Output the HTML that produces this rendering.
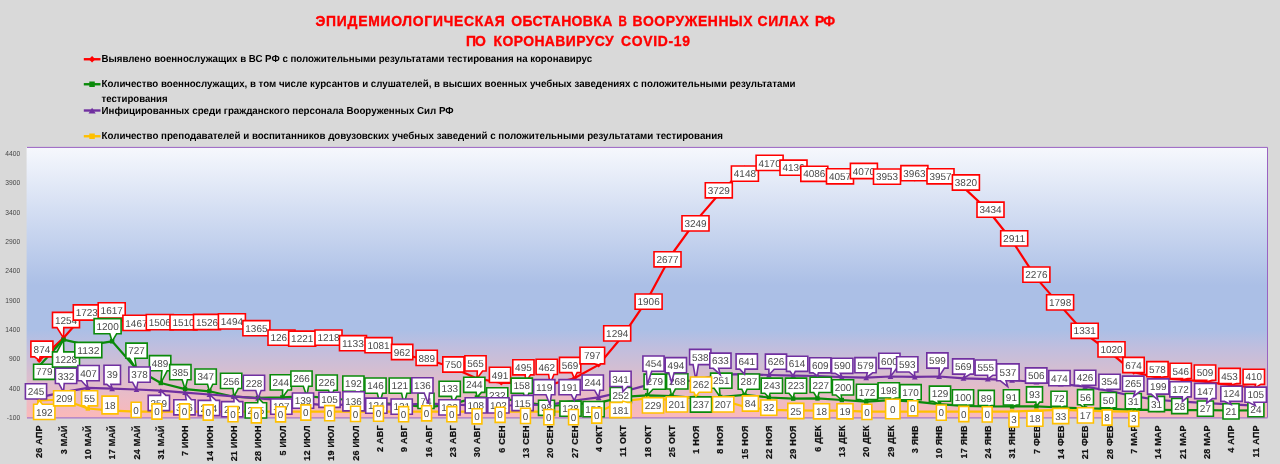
<!DOCTYPE html>
<html lang="ru"><head><meta charset="utf-8"><title>Эпидемиологическая обстановка</title>
<style>html,body{margin:0;padding:0;background:#d9d9d9}svg{display:block}text{font-family:"Liberation Sans",sans-serif}.dl{text-rendering:geometricPrecision;font-size:10px;fill:#4a4a4a;text-anchor:middle}.ax{font-size:6.7px;fill:#444;text-anchor:end}.cx{font-size:9px;font-weight:bold;fill:#111;text-anchor:end;letter-spacing:0.22px;stroke:#111;stroke-width:0.2px}.lg{text-rendering:geometricPrecision;font-size:10.2px;font-weight:bold;fill:#000}.tt{font-size:13.9px;font-weight:bold;fill:#ff0000;stroke:#ff0000;stroke-width:0.35px}</style></head><body>
<svg width="1280" height="464" viewBox="0 0 1280 464">
<defs><linearGradient id="pg" x1="0" y1="0" x2="0" y2="1"><stop offset="0" stop-color="#f6f8fd"/><stop offset="0.51" stop-color="#abbfe6"/><stop offset="0.675" stop-color="#abbfe6"/><stop offset="0.742" stop-color="#c0bede"/><stop offset="0.831" stop-color="#d6bed0"/><stop offset="0.90" stop-color="#e6bcc9"/><stop offset="0.935" stop-color="#eebbc4"/><stop offset="0.965" stop-color="#f3b9bf"/><stop offset="0.985" stop-color="#f9b9bb"/><stop offset="1" stop-color="#fab9ba"/></linearGradient></defs>
<rect width="1280" height="464" fill="#d9d9d9"/>
<text class="tt" y="26.1"><tspan x="315.5" textLength="189.3" lengthAdjust="spacing">ЭПИДЕМИОЛОГИЧЕСКАЯ</tspan> <tspan x="511.2" textLength="101.0" lengthAdjust="spacing">ОБСТАНОВКА</tspan> <tspan x="618.4" textLength="8.4" lengthAdjust="spacingAndGlyphs">В</tspan> <tspan x="632.6" textLength="120.0" lengthAdjust="spacing">ВООРУЖЕННЫХ</tspan> <tspan x="757.6" textLength="51.2" lengthAdjust="spacing">СИЛАХ</tspan> <tspan x="815.1" textLength="20.0" lengthAdjust="spacing">РФ</tspan></text>
<text class="tt" y="45.6"><tspan x="466.1" textLength="19.8" lengthAdjust="spacing">ПО</tspan> <tspan x="493.6" textLength="120.0" lengthAdjust="spacing">КОРОНАВИРУСУ</tspan> <tspan x="621.0" textLength="69.0" lengthAdjust="spacing">COVID-19</tspan></text>
<line x1="83.8" y1="59.25" x2="100.5" y2="59.25" stroke="#ff0000" stroke-width="2.4"/>
<path d="M92.1 56.0L95.3 59.2L92.1 62.5L88.8 59.2Z" fill="#ff0000"/>
<text class="lg" x="101.6" y="62.3" textLength="490.5" lengthAdjust="spacingAndGlyphs">Выявлено военнослужащих в ВС РФ с положительными результатами тестирования на коронавирус</text>
<line x1="83.8" y1="84.25" x2="100.5" y2="84.25" stroke="#0a8a0a" stroke-width="2.4"/>
<rect x="89.3" y="81.5" width="5.5" height="5.5" fill="#0a8a0a"/>
<text class="lg" x="101.6" y="87.3" textLength="694.0" lengthAdjust="spacingAndGlyphs">Количество военнослужащих, в том числе курсантов и слушателей, в высших военных учебных заведениях с положительными результатами</text>
<text class="lg" x="101.6" y="101.5" textLength="66.0" lengthAdjust="spacingAndGlyphs">тестирования</text>
<line x1="83.8" y1="110.50" x2="100.5" y2="110.50" stroke="#7030a0" stroke-width="2.4"/>
<path d="M92.1 107.8L95.7 113.6L88.5 113.6Z" fill="#7030a0"/>
<text class="lg" x="101.6" y="113.5" textLength="352.0" lengthAdjust="spacingAndGlyphs">Инфицированных среди гражданского персонала Вооруженных Сил РФ</text>
<line x1="83.8" y1="136.25" x2="100.5" y2="136.25" stroke="#ffc000" stroke-width="2.4"/>
<rect x="89.3" y="133.5" width="5.5" height="5.5" fill="#ffc000"/>
<text class="lg" x="101.6" y="139.4" textLength="621.3" lengthAdjust="spacingAndGlyphs">Количество преподавателей и воспитанников довузовских учебных заведений с положительными результатами тестирования</text>
<rect x="26.6" y="147.4" width="1240.9" height="270.2" fill="url(#pg)"/>
<path d="M27.0 147.4H1267.5V417.6" fill="none" stroke="#9a62c2" stroke-width="1"/>
<path d="M27.0 417.8H1267.5" fill="none" stroke="#a974c6" stroke-width="1.2"/>
<text class="ax" x="20.2" y="155.8">4400</text>
<text class="ax" x="20.2" y="185.2">3900</text>
<text class="ax" x="20.2" y="214.5">3400</text>
<text class="ax" x="20.2" y="243.9">2900</text>
<text class="ax" x="20.2" y="273.3">2400</text>
<text class="ax" x="20.2" y="302.6">1900</text>
<text class="ax" x="20.2" y="332.0">1400</text>
<text class="ax" x="20.2" y="361.4">900</text>
<text class="ax" x="20.2" y="390.7">400</text>
<text class="ax" x="20.2" y="420.1">-100</text>
<text class="cx" transform="translate(42.4 425.2) rotate(-90)">26 АПР</text>
<text class="cx" transform="translate(66.7 425.2) rotate(-90)">3 МАЙ</text>
<text class="cx" transform="translate(91.0 425.2) rotate(-90)">10 МАЙ</text>
<text class="cx" transform="translate(115.3 425.2) rotate(-90)">17 МАЙ</text>
<text class="cx" transform="translate(139.7 425.2) rotate(-90)">24 МАЙ</text>
<text class="cx" transform="translate(164.0 425.2) rotate(-90)">31 МАЙ</text>
<text class="cx" transform="translate(188.3 425.2) rotate(-90)">7 ИЮН</text>
<text class="cx" transform="translate(212.6 425.2) rotate(-90)">14 ИЮН</text>
<text class="cx" transform="translate(236.9 425.2) rotate(-90)">21 ИЮН</text>
<text class="cx" transform="translate(261.3 425.2) rotate(-90)">28 ИЮН</text>
<text class="cx" transform="translate(285.6 425.2) rotate(-90)">5 ИЮЛ</text>
<text class="cx" transform="translate(309.9 425.2) rotate(-90)">12 ИЮЛ</text>
<text class="cx" transform="translate(334.2 425.2) rotate(-90)">19 ИЮЛ</text>
<text class="cx" transform="translate(358.6 425.2) rotate(-90)">26 ИЮЛ</text>
<text class="cx" transform="translate(382.9 425.2) rotate(-90)">2 АВГ</text>
<text class="cx" transform="translate(407.2 425.2) rotate(-90)">9 АВГ</text>
<text class="cx" transform="translate(431.5 425.2) rotate(-90)">16 АВГ</text>
<text class="cx" transform="translate(455.9 425.2) rotate(-90)">23 АВГ</text>
<text class="cx" transform="translate(480.2 425.2) rotate(-90)">30 АВГ</text>
<text class="cx" transform="translate(504.5 425.2) rotate(-90)">6 СЕН</text>
<text class="cx" transform="translate(528.8 425.2) rotate(-90)">13 СЕН</text>
<text class="cx" transform="translate(553.2 425.2) rotate(-90)">20 СЕН</text>
<text class="cx" transform="translate(577.5 425.2) rotate(-90)">27 СЕН</text>
<text class="cx" transform="translate(601.8 425.2) rotate(-90)">4 ОКТ</text>
<text class="cx" transform="translate(626.1 425.2) rotate(-90)">11 ОКТ</text>
<text class="cx" transform="translate(650.5 425.2) rotate(-90)">18 ОКТ</text>
<text class="cx" transform="translate(674.8 425.2) rotate(-90)">25 ОКТ</text>
<text class="cx" transform="translate(699.1 425.2) rotate(-90)">1 НОЯ</text>
<text class="cx" transform="translate(723.4 425.2) rotate(-90)">8 НОЯ</text>
<text class="cx" transform="translate(747.7 425.2) rotate(-90)">15 НОЯ</text>
<text class="cx" transform="translate(772.1 425.2) rotate(-90)">22 НОЯ</text>
<text class="cx" transform="translate(796.4 425.2) rotate(-90)">29 НОЯ</text>
<text class="cx" transform="translate(820.7 425.2) rotate(-90)">6 ДЕК</text>
<text class="cx" transform="translate(845.0 425.2) rotate(-90)">13 ДЕК</text>
<text class="cx" transform="translate(869.4 425.2) rotate(-90)">20 ДЕК</text>
<text class="cx" transform="translate(893.7 425.2) rotate(-90)">29 ДЕК</text>
<text class="cx" transform="translate(918.0 425.2) rotate(-90)">3 ЯНВ</text>
<text class="cx" transform="translate(942.3 425.2) rotate(-90)">10 ЯНВ</text>
<text class="cx" transform="translate(966.7 425.2) rotate(-90)">17 ЯНВ</text>
<text class="cx" transform="translate(991.0 425.2) rotate(-90)">24 ЯНВ</text>
<text class="cx" transform="translate(1015.3 425.2) rotate(-90)">31 ЯНВ</text>
<text class="cx" transform="translate(1039.6 425.2) rotate(-90)">7 ФЕВ</text>
<text class="cx" transform="translate(1064.0 425.2) rotate(-90)">14 ФЕВ</text>
<text class="cx" transform="translate(1088.3 425.2) rotate(-90)">21 ФЕВ</text>
<text class="cx" transform="translate(1112.6 425.2) rotate(-90)">28 ФЕВ</text>
<text class="cx" transform="translate(1136.9 425.2) rotate(-90)">7 МАР</text>
<text class="cx" transform="translate(1161.2 425.2) rotate(-90)">14 МАР</text>
<text class="cx" transform="translate(1185.6 425.2) rotate(-90)">21 МАР</text>
<text class="cx" transform="translate(1209.9 425.2) rotate(-90)">28 МАР</text>
<text class="cx" transform="translate(1234.2 425.2) rotate(-90)">4 АПР</text>
<text class="cx" transform="translate(1258.5 425.2) rotate(-90)">11 АПР</text>
<polyline points="39.2,360.4 63.5,338.1 87.8,310.5 112.1,316.8 136.5,325.6 160.8,323.3 185.1,323.0 209.4,322.1 233.8,324.0 258.1,331.6 282.4,337.4 306.7,340.0 331.0,340.2 355.4,345.2 379.7,348.2 404.0,355.2 428.3,359.5 452.7,367.7 477.0,378.5 501.3,382.9 525.6,382.7 550.0,384.6 574.3,378.3 598.6,364.9 622.9,335.7 647.2,299.8 671.6,254.5 695.9,220.9 720.2,192.7 744.5,168.1 768.9,166.8 793.2,168.8 817.5,171.8 841.8,173.5 866.2,172.7 890.5,179.6 914.8,179.0 939.1,179.3 963.5,187.4 987.8,210.0 1012.1,240.8 1036.4,278.1 1060.8,306.1 1085.1,333.6 1109.4,351.8 1133.7,372.1 1158.0,377.8 1182.4,379.7 1206.7,381.8 1231.0,385.1 1255.3,387.6" fill="none" stroke="#ff0000" stroke-width="2.2" stroke-linejoin="round" stroke-linecap="round"/>
<path d="M39.2 357.8L41.8 360.4L39.2 363.0L36.6 360.4Z" fill="#ff0000"/>
<path d="M63.5 335.5L66.1 338.1L63.5 340.7L60.9 338.1Z" fill="#ff0000"/>
<path d="M87.8 307.9L90.4 310.5L87.8 313.1L85.2 310.5Z" fill="#ff0000"/>
<path d="M112.1 314.2L114.7 316.8L112.1 319.4L109.5 316.8Z" fill="#ff0000"/>
<path d="M136.5 323.0L139.1 325.6L136.5 328.2L133.9 325.6Z" fill="#ff0000"/>
<path d="M160.8 320.7L163.4 323.3L160.8 325.9L158.2 323.3Z" fill="#ff0000"/>
<path d="M185.1 320.4L187.7 323.0L185.1 325.6L182.5 323.0Z" fill="#ff0000"/>
<path d="M209.4 319.5L212.0 322.1L209.4 324.7L206.8 322.1Z" fill="#ff0000"/>
<path d="M233.8 321.4L236.3 324.0L233.8 326.6L231.2 324.0Z" fill="#ff0000"/>
<path d="M258.1 329.0L260.7 331.6L258.1 334.2L255.5 331.6Z" fill="#ff0000"/>
<path d="M282.4 334.8L285.0 337.4L282.4 340.0L279.8 337.4Z" fill="#ff0000"/>
<path d="M306.7 337.4L309.3 340.0L306.7 342.6L304.1 340.0Z" fill="#ff0000"/>
<path d="M331.0 337.6L333.6 340.2L331.0 342.8L328.4 340.2Z" fill="#ff0000"/>
<path d="M355.4 342.6L358.0 345.2L355.4 347.8L352.8 345.2Z" fill="#ff0000"/>
<path d="M379.7 345.6L382.3 348.2L379.7 350.8L377.1 348.2Z" fill="#ff0000"/>
<path d="M404.0 352.6L406.6 355.2L404.0 357.8L401.4 355.2Z" fill="#ff0000"/>
<path d="M428.3 356.9L430.9 359.5L428.3 362.1L425.7 359.5Z" fill="#ff0000"/>
<path d="M452.7 365.1L455.3 367.7L452.7 370.3L450.1 367.7Z" fill="#ff0000"/>
<path d="M477.0 375.9L479.6 378.5L477.0 381.1L474.4 378.5Z" fill="#ff0000"/>
<path d="M501.3 380.3L503.9 382.9L501.3 385.5L498.7 382.9Z" fill="#ff0000"/>
<path d="M525.6 380.1L528.2 382.7L525.6 385.3L523.0 382.7Z" fill="#ff0000"/>
<path d="M550.0 382.0L552.6 384.6L550.0 387.2L547.4 384.6Z" fill="#ff0000"/>
<path d="M574.3 375.7L576.9 378.3L574.3 380.9L571.7 378.3Z" fill="#ff0000"/>
<path d="M598.6 362.3L601.2 364.9L598.6 367.5L596.0 364.9Z" fill="#ff0000"/>
<path d="M622.9 333.1L625.5 335.7L622.9 338.3L620.3 335.7Z" fill="#ff0000"/>
<path d="M647.2 297.2L649.9 299.8L647.2 302.4L644.6 299.8Z" fill="#ff0000"/>
<path d="M671.6 251.9L674.2 254.5L671.6 257.1L669.0 254.5Z" fill="#ff0000"/>
<path d="M695.9 218.3L698.5 220.9L695.9 223.5L693.3 220.9Z" fill="#ff0000"/>
<path d="M720.2 190.1L722.8 192.7L720.2 195.3L717.6 192.7Z" fill="#ff0000"/>
<path d="M744.5 165.5L747.1 168.1L744.5 170.7L741.9 168.1Z" fill="#ff0000"/>
<path d="M768.9 164.2L771.5 166.8L768.9 169.4L766.3 166.8Z" fill="#ff0000"/>
<path d="M793.2 166.2L795.8 168.8L793.2 171.4L790.6 168.8Z" fill="#ff0000"/>
<path d="M817.5 169.2L820.1 171.8L817.5 174.4L814.9 171.8Z" fill="#ff0000"/>
<path d="M841.8 170.9L844.4 173.5L841.8 176.1L839.2 173.5Z" fill="#ff0000"/>
<path d="M866.2 170.1L868.8 172.7L866.2 175.3L863.6 172.7Z" fill="#ff0000"/>
<path d="M890.5 177.0L893.1 179.6L890.5 182.2L887.9 179.6Z" fill="#ff0000"/>
<path d="M914.8 176.4L917.4 179.0L914.8 181.6L912.2 179.0Z" fill="#ff0000"/>
<path d="M939.1 176.7L941.7 179.3L939.1 181.9L936.5 179.3Z" fill="#ff0000"/>
<path d="M963.5 184.8L966.1 187.4L963.5 190.0L960.9 187.4Z" fill="#ff0000"/>
<path d="M987.8 207.4L990.4 210.0L987.8 212.6L985.2 210.0Z" fill="#ff0000"/>
<path d="M1012.1 238.2L1014.7 240.8L1012.1 243.4L1009.5 240.8Z" fill="#ff0000"/>
<path d="M1036.4 275.5L1039.0 278.1L1036.4 280.7L1033.8 278.1Z" fill="#ff0000"/>
<path d="M1060.8 303.5L1063.3 306.1L1060.8 308.7L1058.2 306.1Z" fill="#ff0000"/>
<path d="M1085.1 331.0L1087.7 333.6L1085.1 336.2L1082.5 333.6Z" fill="#ff0000"/>
<path d="M1109.4 349.2L1112.0 351.8L1109.4 354.4L1106.8 351.8Z" fill="#ff0000"/>
<path d="M1133.7 369.5L1136.3 372.1L1133.7 374.7L1131.1 372.1Z" fill="#ff0000"/>
<path d="M1158.0 375.2L1160.6 377.8L1158.0 380.4L1155.4 377.8Z" fill="#ff0000"/>
<path d="M1182.4 377.1L1185.0 379.7L1182.4 382.3L1179.8 379.7Z" fill="#ff0000"/>
<path d="M1206.7 379.2L1209.3 381.8L1206.7 384.4L1204.1 381.8Z" fill="#ff0000"/>
<path d="M1231.0 382.5L1233.6 385.1L1231.0 387.7L1228.4 385.1Z" fill="#ff0000"/>
<path d="M1255.3 385.0L1257.9 387.6L1255.3 390.2L1252.7 387.6Z" fill="#ff0000"/>
<polyline points="39.2,366.0 63.5,339.6 87.8,345.2 112.1,341.3 136.5,369.0 160.8,383.0 185.1,389.1 209.4,391.3 233.8,396.7 258.1,397.9 282.4,397.4 306.7,396.1 331.0,398.5 355.4,400.5 379.7,403.2 404.0,404.6 428.3,407.4 452.7,403.9 477.0,397.4 501.3,398.1 525.6,402.4 550.0,406.0 574.3,404.2 598.6,402.9 622.9,396.9 647.2,395.3 671.6,396.0 695.9,397.8 720.2,397.0 744.5,394.9 768.9,397.5 793.2,398.6 817.5,398.4 841.8,400.0 866.2,401.6 890.5,400.1 914.8,401.7 939.1,404.2 963.5,405.9 987.8,406.5 1012.1,406.4 1036.4,406.3 1060.8,407.5 1085.1,408.4 1109.4,408.8 1133.7,409.9 1158.0,409.9 1182.4,410.1 1206.7,410.1 1231.0,410.5 1255.3,410.3" fill="none" stroke="#0a8a0a" stroke-width="2.2" stroke-linejoin="round" stroke-linecap="round"/>
<rect x="37.0" y="363.8" width="4.4" height="4.4" fill="#0a8a0a"/>
<rect x="61.3" y="337.4" width="4.4" height="4.4" fill="#0a8a0a"/>
<rect x="85.6" y="343.0" width="4.4" height="4.4" fill="#0a8a0a"/>
<rect x="109.9" y="339.1" width="4.4" height="4.4" fill="#0a8a0a"/>
<rect x="134.3" y="366.8" width="4.4" height="4.4" fill="#0a8a0a"/>
<rect x="158.6" y="380.8" width="4.4" height="4.4" fill="#0a8a0a"/>
<rect x="182.9" y="386.9" width="4.4" height="4.4" fill="#0a8a0a"/>
<rect x="207.2" y="389.1" width="4.4" height="4.4" fill="#0a8a0a"/>
<rect x="231.6" y="394.5" width="4.4" height="4.4" fill="#0a8a0a"/>
<rect x="255.9" y="395.7" width="4.4" height="4.4" fill="#0a8a0a"/>
<rect x="280.2" y="395.2" width="4.4" height="4.4" fill="#0a8a0a"/>
<rect x="304.5" y="393.9" width="4.4" height="4.4" fill="#0a8a0a"/>
<rect x="328.8" y="396.3" width="4.4" height="4.4" fill="#0a8a0a"/>
<rect x="353.2" y="398.3" width="4.4" height="4.4" fill="#0a8a0a"/>
<rect x="377.5" y="401.0" width="4.4" height="4.4" fill="#0a8a0a"/>
<rect x="401.8" y="402.4" width="4.4" height="4.4" fill="#0a8a0a"/>
<rect x="426.1" y="405.2" width="4.4" height="4.4" fill="#0a8a0a"/>
<rect x="450.5" y="401.7" width="4.4" height="4.4" fill="#0a8a0a"/>
<rect x="474.8" y="395.2" width="4.4" height="4.4" fill="#0a8a0a"/>
<rect x="499.1" y="395.9" width="4.4" height="4.4" fill="#0a8a0a"/>
<rect x="523.4" y="400.2" width="4.4" height="4.4" fill="#0a8a0a"/>
<rect x="547.8" y="403.8" width="4.4" height="4.4" fill="#0a8a0a"/>
<rect x="572.1" y="402.0" width="4.4" height="4.4" fill="#0a8a0a"/>
<rect x="596.4" y="400.7" width="4.4" height="4.4" fill="#0a8a0a"/>
<rect x="620.7" y="394.7" width="4.4" height="4.4" fill="#0a8a0a"/>
<rect x="645.0" y="393.1" width="4.4" height="4.4" fill="#0a8a0a"/>
<rect x="669.4" y="393.8" width="4.4" height="4.4" fill="#0a8a0a"/>
<rect x="693.7" y="395.6" width="4.4" height="4.4" fill="#0a8a0a"/>
<rect x="718.0" y="394.8" width="4.4" height="4.4" fill="#0a8a0a"/>
<rect x="742.3" y="392.7" width="4.4" height="4.4" fill="#0a8a0a"/>
<rect x="766.7" y="395.3" width="4.4" height="4.4" fill="#0a8a0a"/>
<rect x="791.0" y="396.4" width="4.4" height="4.4" fill="#0a8a0a"/>
<rect x="815.3" y="396.2" width="4.4" height="4.4" fill="#0a8a0a"/>
<rect x="839.6" y="397.8" width="4.4" height="4.4" fill="#0a8a0a"/>
<rect x="864.0" y="399.4" width="4.4" height="4.4" fill="#0a8a0a"/>
<rect x="888.3" y="397.9" width="4.4" height="4.4" fill="#0a8a0a"/>
<rect x="912.6" y="399.5" width="4.4" height="4.4" fill="#0a8a0a"/>
<rect x="936.9" y="402.0" width="4.4" height="4.4" fill="#0a8a0a"/>
<rect x="961.3" y="403.7" width="4.4" height="4.4" fill="#0a8a0a"/>
<rect x="985.6" y="404.3" width="4.4" height="4.4" fill="#0a8a0a"/>
<rect x="1009.9" y="404.2" width="4.4" height="4.4" fill="#0a8a0a"/>
<rect x="1034.2" y="404.1" width="4.4" height="4.4" fill="#0a8a0a"/>
<rect x="1058.5" y="405.3" width="4.4" height="4.4" fill="#0a8a0a"/>
<rect x="1082.9" y="406.2" width="4.4" height="4.4" fill="#0a8a0a"/>
<rect x="1107.2" y="406.6" width="4.4" height="4.4" fill="#0a8a0a"/>
<rect x="1131.5" y="407.7" width="4.4" height="4.4" fill="#0a8a0a"/>
<rect x="1155.8" y="407.7" width="4.4" height="4.4" fill="#0a8a0a"/>
<rect x="1180.2" y="407.9" width="4.4" height="4.4" fill="#0a8a0a"/>
<rect x="1204.5" y="407.9" width="4.4" height="4.4" fill="#0a8a0a"/>
<rect x="1228.8" y="408.3" width="4.4" height="4.4" fill="#0a8a0a"/>
<rect x="1253.1" y="408.1" width="4.4" height="4.4" fill="#0a8a0a"/>
<polyline points="39.2,397.3 63.5,392.2 87.8,387.8 112.1,388.7 136.5,389.5 160.8,390.6 185.1,392.6 209.4,394.5 233.8,396.3 258.1,398.3 282.4,400.2 306.7,403.6 331.0,405.6 355.4,403.7 379.7,404.4 404.0,404.6 428.3,403.7 452.7,404.6 477.0,405.4 501.3,405.7 525.6,405.0 550.0,404.7 574.3,400.5 598.6,397.4 622.9,391.7 647.2,385.1 671.6,382.7 695.9,380.1 720.2,374.6 744.5,374.1 768.9,375.0 793.2,375.7 817.5,376.0 841.8,377.1 866.2,377.7 890.5,376.5 914.8,376.9 939.1,376.5 963.5,378.3 987.8,379.1 1012.1,380.2 1036.4,382.0 1060.8,383.9 1085.1,386.7 1109.4,390.9 1133.7,396.2 1158.0,400.0 1182.4,401.6 1206.7,403.1 1231.0,404.4 1255.3,405.6" fill="none" stroke="#7030a0" stroke-width="2.2" stroke-linejoin="round" stroke-linecap="round"/>
<path d="M39.2 395.2L42.1 399.8L36.3 399.8Z" fill="#7030a0"/>
<path d="M63.5 390.1L66.4 394.7L60.6 394.7Z" fill="#7030a0"/>
<path d="M87.8 385.6L90.7 390.3L84.9 390.3Z" fill="#7030a0"/>
<path d="M112.1 386.5L115.0 391.2L109.2 391.2Z" fill="#7030a0"/>
<path d="M136.5 387.4L139.4 392.0L133.6 392.0Z" fill="#7030a0"/>
<path d="M160.8 388.5L163.7 393.1L157.9 393.1Z" fill="#7030a0"/>
<path d="M185.1 390.4L188.0 395.0L182.2 395.0Z" fill="#7030a0"/>
<path d="M209.4 392.3L212.3 396.9L206.5 396.9Z" fill="#7030a0"/>
<path d="M233.8 394.2L236.7 398.8L230.8 398.8Z" fill="#7030a0"/>
<path d="M258.1 396.2L261.0 400.8L255.2 400.8Z" fill="#7030a0"/>
<path d="M282.4 398.0L285.3 402.6L279.5 402.6Z" fill="#7030a0"/>
<path d="M306.7 401.4L309.6 406.0L303.8 406.0Z" fill="#7030a0"/>
<path d="M331.0 403.4L333.9 408.0L328.1 408.0Z" fill="#7030a0"/>
<path d="M355.4 401.6L358.3 406.2L352.5 406.2Z" fill="#7030a0"/>
<path d="M379.7 402.3L382.6 406.9L376.8 406.9Z" fill="#7030a0"/>
<path d="M404.0 402.4L406.9 407.1L401.1 407.1Z" fill="#7030a0"/>
<path d="M428.3 401.6L431.2 406.2L425.4 406.2Z" fill="#7030a0"/>
<path d="M452.7 402.4L455.6 407.0L449.8 407.0Z" fill="#7030a0"/>
<path d="M477.0 403.2L479.9 407.8L474.1 407.8Z" fill="#7030a0"/>
<path d="M501.3 403.6L504.2 408.2L498.4 408.2Z" fill="#7030a0"/>
<path d="M525.6 402.8L528.5 407.4L522.7 407.4Z" fill="#7030a0"/>
<path d="M550.0 402.6L552.9 407.2L547.1 407.2Z" fill="#7030a0"/>
<path d="M574.3 398.3L577.2 403.0L571.4 403.0Z" fill="#7030a0"/>
<path d="M598.6 395.2L601.5 399.9L595.7 399.9Z" fill="#7030a0"/>
<path d="M622.9 389.5L625.8 394.2L620.0 394.2Z" fill="#7030a0"/>
<path d="M647.2 382.9L650.1 387.5L644.4 387.5Z" fill="#7030a0"/>
<path d="M671.6 380.5L674.5 385.2L668.7 385.2Z" fill="#7030a0"/>
<path d="M695.9 378.0L698.8 382.6L693.0 382.6Z" fill="#7030a0"/>
<path d="M720.2 372.4L723.1 377.0L717.3 377.0Z" fill="#7030a0"/>
<path d="M744.5 371.9L747.4 376.5L741.6 376.5Z" fill="#7030a0"/>
<path d="M768.9 372.8L771.8 377.4L766.0 377.4Z" fill="#7030a0"/>
<path d="M793.2 373.5L796.1 378.1L790.3 378.1Z" fill="#7030a0"/>
<path d="M817.5 373.8L820.4 378.4L814.6 378.4Z" fill="#7030a0"/>
<path d="M841.8 374.9L844.7 379.5L838.9 379.5Z" fill="#7030a0"/>
<path d="M866.2 375.5L869.1 380.2L863.3 380.2Z" fill="#7030a0"/>
<path d="M890.5 374.3L893.4 379.0L887.6 379.0Z" fill="#7030a0"/>
<path d="M914.8 374.7L917.7 379.4L911.9 379.4Z" fill="#7030a0"/>
<path d="M939.1 374.4L942.0 379.0L936.2 379.0Z" fill="#7030a0"/>
<path d="M963.5 376.1L966.4 380.8L960.6 380.8Z" fill="#7030a0"/>
<path d="M987.8 377.0L990.7 381.6L984.9 381.6Z" fill="#7030a0"/>
<path d="M1012.1 378.0L1015.0 382.7L1009.2 382.7Z" fill="#7030a0"/>
<path d="M1036.4 379.8L1039.3 384.5L1033.5 384.5Z" fill="#7030a0"/>
<path d="M1060.8 381.7L1063.7 386.4L1057.8 386.4Z" fill="#7030a0"/>
<path d="M1085.1 384.5L1088.0 389.2L1082.2 389.2Z" fill="#7030a0"/>
<path d="M1109.4 388.8L1112.3 393.4L1106.5 393.4Z" fill="#7030a0"/>
<path d="M1133.7 394.0L1136.6 398.6L1130.8 398.6Z" fill="#7030a0"/>
<path d="M1158.0 397.9L1160.9 402.5L1155.1 402.5Z" fill="#7030a0"/>
<path d="M1182.4 399.5L1185.3 404.1L1179.5 404.1Z" fill="#7030a0"/>
<path d="M1206.7 400.9L1209.6 405.6L1203.8 405.6Z" fill="#7030a0"/>
<path d="M1231.0 402.3L1233.9 406.9L1228.1 406.9Z" fill="#7030a0"/>
<path d="M1255.3 403.4L1258.2 408.0L1252.4 408.0Z" fill="#7030a0"/>
<polyline points="39.2,400.5 63.5,399.5 87.8,408.5 112.1,410.7 136.5,411.7 160.8,411.7 185.1,411.7 209.4,411.7 233.8,411.7 258.1,411.7 282.4,411.7 306.7,411.7 331.0,411.7 355.4,411.7 379.7,411.7 404.0,411.7 428.3,411.7 452.7,411.7 477.0,411.7 501.3,411.7 525.6,411.7 550.0,411.7 574.3,411.7 598.6,411.7 622.9,401.1 647.2,398.3 671.6,399.9 695.9,396.3 720.2,399.6 744.5,406.8 768.9,409.8 793.2,410.3 817.5,410.7 841.8,410.6 866.2,411.7 890.5,411.7 914.8,411.7 939.1,411.7 963.5,411.7 987.8,411.7 1012.1,411.6 1036.4,410.7 1060.8,409.8 1085.1,410.7 1109.4,411.3 1133.7,411.6" fill="none" stroke="#ffc000" stroke-width="2.2" stroke-linejoin="round" stroke-linecap="round"/>
<rect x="37.0" y="398.3" width="4.4" height="4.4" fill="#ffc000"/>
<rect x="61.3" y="397.3" width="4.4" height="4.4" fill="#ffc000"/>
<rect x="85.6" y="406.3" width="4.4" height="4.4" fill="#ffc000"/>
<rect x="109.9" y="408.5" width="4.4" height="4.4" fill="#ffc000"/>
<rect x="134.3" y="409.5" width="4.4" height="4.4" fill="#ffc000"/>
<rect x="158.6" y="409.5" width="4.4" height="4.4" fill="#ffc000"/>
<rect x="182.9" y="409.5" width="4.4" height="4.4" fill="#ffc000"/>
<rect x="207.2" y="409.5" width="4.4" height="4.4" fill="#ffc000"/>
<rect x="231.6" y="409.5" width="4.4" height="4.4" fill="#ffc000"/>
<rect x="255.9" y="409.5" width="4.4" height="4.4" fill="#ffc000"/>
<rect x="280.2" y="409.5" width="4.4" height="4.4" fill="#ffc000"/>
<rect x="304.5" y="409.5" width="4.4" height="4.4" fill="#ffc000"/>
<rect x="328.8" y="409.5" width="4.4" height="4.4" fill="#ffc000"/>
<rect x="353.2" y="409.5" width="4.4" height="4.4" fill="#ffc000"/>
<rect x="377.5" y="409.5" width="4.4" height="4.4" fill="#ffc000"/>
<rect x="401.8" y="409.5" width="4.4" height="4.4" fill="#ffc000"/>
<rect x="426.1" y="409.5" width="4.4" height="4.4" fill="#ffc000"/>
<rect x="450.5" y="409.5" width="4.4" height="4.4" fill="#ffc000"/>
<rect x="474.8" y="409.5" width="4.4" height="4.4" fill="#ffc000"/>
<rect x="499.1" y="409.5" width="4.4" height="4.4" fill="#ffc000"/>
<rect x="523.4" y="409.5" width="4.4" height="4.4" fill="#ffc000"/>
<rect x="547.8" y="409.5" width="4.4" height="4.4" fill="#ffc000"/>
<rect x="572.1" y="409.5" width="4.4" height="4.4" fill="#ffc000"/>
<rect x="596.4" y="409.5" width="4.4" height="4.4" fill="#ffc000"/>
<rect x="620.7" y="398.9" width="4.4" height="4.4" fill="#ffc000"/>
<rect x="645.0" y="396.1" width="4.4" height="4.4" fill="#ffc000"/>
<rect x="669.4" y="397.7" width="4.4" height="4.4" fill="#ffc000"/>
<rect x="693.7" y="394.1" width="4.4" height="4.4" fill="#ffc000"/>
<rect x="718.0" y="397.4" width="4.4" height="4.4" fill="#ffc000"/>
<rect x="742.3" y="404.6" width="4.4" height="4.4" fill="#ffc000"/>
<rect x="766.7" y="407.6" width="4.4" height="4.4" fill="#ffc000"/>
<rect x="791.0" y="408.1" width="4.4" height="4.4" fill="#ffc000"/>
<rect x="815.3" y="408.5" width="4.4" height="4.4" fill="#ffc000"/>
<rect x="839.6" y="408.4" width="4.4" height="4.4" fill="#ffc000"/>
<rect x="864.0" y="409.5" width="4.4" height="4.4" fill="#ffc000"/>
<rect x="888.3" y="409.5" width="4.4" height="4.4" fill="#ffc000"/>
<rect x="912.6" y="409.5" width="4.4" height="4.4" fill="#ffc000"/>
<rect x="936.9" y="409.5" width="4.4" height="4.4" fill="#ffc000"/>
<rect x="961.3" y="409.5" width="4.4" height="4.4" fill="#ffc000"/>
<rect x="985.6" y="409.5" width="4.4" height="4.4" fill="#ffc000"/>
<rect x="1009.9" y="409.4" width="4.4" height="4.4" fill="#ffc000"/>
<rect x="1034.2" y="408.5" width="4.4" height="4.4" fill="#ffc000"/>
<rect x="1058.5" y="407.6" width="4.4" height="4.4" fill="#ffc000"/>
<rect x="1082.9" y="408.5" width="4.4" height="4.4" fill="#ffc000"/>
<rect x="1107.2" y="409.1" width="4.4" height="4.4" fill="#ffc000"/>
<rect x="1131.5" y="409.4" width="4.4" height="4.4" fill="#ffc000"/>
<g fill="#fff" stroke="#ff0000" stroke-width="1.6" stroke-linejoin="miter">
<path d="M30.9 341.1H52.9V356.9H40.1L39.2 360.4L34.6 356.9H30.9Z"/><text class="dl" stroke="none" x="41.9" y="352.6" textLength="16.6" lengthAdjust="spacingAndGlyphs">874</text>
<path d="M52.5 312.4H79.5V327.6H63.8L63.5 338.1L57.0 327.6H52.5Z"/><text class="dl" stroke="none" x="66.0" y="323.6" textLength="22.2" lengthAdjust="spacingAndGlyphs">1254</text>
<path d="M73.3 304.9H100.3V320.1H73.3Z"/><text class="dl" stroke="none" x="86.8" y="316.1" textLength="22.2" lengthAdjust="spacingAndGlyphs">1723</text>
<path d="M98.2 302.8H125.2V318.0H98.2Z"/><text class="dl" stroke="none" x="111.7" y="314.0" textLength="22.2" lengthAdjust="spacingAndGlyphs">1617</text>
<path d="M122.9 315.3H149.9V330.5H122.9Z"/><text class="dl" stroke="none" x="136.4" y="326.5" textLength="22.2" lengthAdjust="spacingAndGlyphs">1467</text>
<path d="M146.3 314.5H173.3V329.7H146.3Z"/><text class="dl" stroke="none" x="159.8" y="325.7" textLength="22.2" lengthAdjust="spacingAndGlyphs">1506</text>
<path d="M170.0 314.7H197.0V329.9H170.0Z"/><text class="dl" stroke="none" x="183.5" y="325.9" textLength="22.2" lengthAdjust="spacingAndGlyphs">1510</text>
<path d="M193.5 314.4H220.5V329.6H193.5Z"/><text class="dl" stroke="none" x="207.0" y="325.6" textLength="22.2" lengthAdjust="spacingAndGlyphs">1526</text>
<path d="M218.4 313.8H245.4V329.0H218.4Z"/><text class="dl" stroke="none" x="231.9" y="325.0" textLength="22.2" lengthAdjust="spacingAndGlyphs">1494</text>
<path d="M242.9 320.6H269.9V335.8H242.9Z"/><text class="dl" stroke="none" x="256.4" y="331.8" textLength="22.2" lengthAdjust="spacingAndGlyphs">1365</text>
<path d="M268.0 330.0H295.0V345.2H268.0Z"/><text class="dl" stroke="none" x="281.5" y="341.2" textLength="22.2" lengthAdjust="spacingAndGlyphs">1261</text>
<path d="M288.7 331.1H315.7V346.3H288.7Z"/><text class="dl" stroke="none" x="302.2" y="342.3" textLength="22.2" lengthAdjust="spacingAndGlyphs">1221</text>
<path d="M315.0 330.0H342.0V345.2H315.0Z"/><text class="dl" stroke="none" x="328.5" y="341.2" textLength="22.2" lengthAdjust="spacingAndGlyphs">1218</text>
<path d="M339.5 335.6H366.5V350.8H339.5Z"/><text class="dl" stroke="none" x="353.0" y="346.8" textLength="22.2" lengthAdjust="spacingAndGlyphs">1133</text>
<path d="M365.0 337.6H392.0V352.8H365.0Z"/><text class="dl" stroke="none" x="378.5" y="348.8" textLength="22.2" lengthAdjust="spacingAndGlyphs">1081</text>
<path d="M391.5 344.4H412.8V359.6H391.5Z"/><text class="dl" stroke="none" x="402.1" y="355.6" textLength="16.6" lengthAdjust="spacingAndGlyphs">962</text>
<path d="M416.1 350.3H437.3V365.5H416.1Z"/><text class="dl" stroke="none" x="426.7" y="361.5" textLength="16.6" lengthAdjust="spacingAndGlyphs">889</text>
<path d="M442.8 356.9H464.0V372.1H442.8Z"/><text class="dl" stroke="none" x="453.4" y="368.1" textLength="16.6" lengthAdjust="spacingAndGlyphs">750</text>
<path d="M464.9 355.8H486.1V371.0H482.6L477.0 378.5L477.3 371.0H464.9Z"/><text class="dl" stroke="none" x="475.5" y="367.0" textLength="16.6" lengthAdjust="spacingAndGlyphs">565</text>
<path d="M489.4 367.3H510.6V382.5H489.4Z"/><text class="dl" stroke="none" x="500.0" y="378.5" textLength="16.6" lengthAdjust="spacingAndGlyphs">491</text>
<path d="M512.8 359.7H534.0V374.9H530.5L525.6 382.7L525.2 374.9H512.8Z"/><text class="dl" stroke="none" x="523.4" y="370.9" textLength="16.6" lengthAdjust="spacingAndGlyphs">495</text>
<path d="M536.1 359.3H557.4V374.5H553.9L550.0 384.6L548.6 374.5H536.1Z"/><text class="dl" stroke="none" x="546.8" y="370.5" textLength="16.6" lengthAdjust="spacingAndGlyphs">462</text>
<path d="M559.5 357.4H580.8V372.6H577.2L574.3 378.3L571.9 372.6H559.5Z"/><text class="dl" stroke="none" x="570.1" y="368.6" textLength="16.6" lengthAdjust="spacingAndGlyphs">569</text>
<path d="M580.0 347.3H604.6V363.9H600.5L598.6 364.9L594.4 363.9H580.0Z"/><text class="dl" stroke="none" x="592.3" y="359.2" textLength="16.6" lengthAdjust="spacingAndGlyphs">797</text>
<path d="M603.7 325.8H630.7V341.0H603.7Z"/><text class="dl" stroke="none" x="617.2" y="337.0" textLength="22.2" lengthAdjust="spacingAndGlyphs">1294</text>
<path d="M635.1 294.0H662.1V309.2H635.1Z"/><text class="dl" stroke="none" x="648.6" y="305.2" textLength="22.2" lengthAdjust="spacingAndGlyphs">1906</text>
<path d="M654.0 251.7H681.0V266.9H654.0Z"/><text class="dl" stroke="none" x="667.5" y="262.9" textLength="22.2" lengthAdjust="spacingAndGlyphs">2677</text>
<path d="M682.0 215.8H709.0V231.0H682.0Z"/><text class="dl" stroke="none" x="695.5" y="227.0" textLength="22.2" lengthAdjust="spacingAndGlyphs">3249</text>
<path d="M705.3 182.7H732.3V197.9H705.3Z"/><text class="dl" stroke="none" x="718.8" y="193.9" textLength="22.2" lengthAdjust="spacingAndGlyphs">3729</text>
<path d="M731.4 166.0H758.4V181.2H731.4Z"/><text class="dl" stroke="none" x="744.9" y="177.2" textLength="22.2" lengthAdjust="spacingAndGlyphs">4148</text>
<path d="M756.1 155.3H783.1V170.5H756.1Z"/><text class="dl" stroke="none" x="769.6" y="166.5" textLength="22.2" lengthAdjust="spacingAndGlyphs">4170</text>
<path d="M780.0 160.1H807.0V175.3H780.0Z"/><text class="dl" stroke="none" x="793.5" y="171.3" textLength="22.2" lengthAdjust="spacingAndGlyphs">4136</text>
<path d="M800.8 166.2H827.8V181.4H800.8Z"/><text class="dl" stroke="none" x="814.3" y="177.4" textLength="22.2" lengthAdjust="spacingAndGlyphs">4086</text>
<path d="M826.5 168.7H853.5V183.9H826.5Z"/><text class="dl" stroke="none" x="840.0" y="179.9" textLength="22.2" lengthAdjust="spacingAndGlyphs">4057</text>
<path d="M850.4 163.4H877.4V178.6H850.4Z"/><text class="dl" stroke="none" x="863.9" y="174.6" textLength="22.2" lengthAdjust="spacingAndGlyphs">4070</text>
<path d="M873.5 169.0H900.5V184.2H873.5Z"/><text class="dl" stroke="none" x="887.0" y="180.2" textLength="22.2" lengthAdjust="spacingAndGlyphs">3953</text>
<path d="M900.9 165.6H927.9V180.8H900.9Z"/><text class="dl" stroke="none" x="914.4" y="176.8" textLength="22.2" lengthAdjust="spacingAndGlyphs">3963</text>
<path d="M927.0 168.7H954.0V183.9H927.0Z"/><text class="dl" stroke="none" x="940.5" y="179.9" textLength="22.2" lengthAdjust="spacingAndGlyphs">3957</text>
<path d="M952.4 174.9H979.4V190.1H952.4Z"/><text class="dl" stroke="none" x="965.9" y="186.1" textLength="22.2" lengthAdjust="spacingAndGlyphs">3820</text>
<path d="M977.0 202.1H1004.0V217.3H977.0Z"/><text class="dl" stroke="none" x="990.5" y="213.3" textLength="22.2" lengthAdjust="spacingAndGlyphs">3434</text>
<path d="M1000.7 230.8H1027.7V246.0H1000.7Z"/><text class="dl" stroke="none" x="1014.2" y="242.0" textLength="22.2" lengthAdjust="spacingAndGlyphs">2911</text>
<path d="M1022.9 267.0H1049.9V282.2H1022.9Z"/><text class="dl" stroke="none" x="1036.4" y="278.2" textLength="22.2" lengthAdjust="spacingAndGlyphs">2276</text>
<path d="M1046.6 294.8H1073.6V310.0H1046.6Z"/><text class="dl" stroke="none" x="1060.1" y="306.0" textLength="22.2" lengthAdjust="spacingAndGlyphs">1798</text>
<path d="M1071.2 323.2H1098.2V338.4H1071.2Z"/><text class="dl" stroke="none" x="1084.7" y="334.4" textLength="22.2" lengthAdjust="spacingAndGlyphs">1331</text>
<path d="M1098.0 341.8H1125.0V357.0H1098.0Z"/><text class="dl" stroke="none" x="1111.5" y="353.0" textLength="22.2" lengthAdjust="spacingAndGlyphs">1020</text>
<path d="M1122.8 357.4H1144.2V372.6H1122.8Z"/><text class="dl" stroke="none" x="1133.5" y="368.6" textLength="16.6" lengthAdjust="spacingAndGlyphs">674</text>
<path d="M1146.8 361.6H1168.1V376.8H1164.5L1158.0 377.8L1159.2 376.8H1146.8Z"/><text class="dl" stroke="none" x="1157.4" y="372.8" textLength="16.6" lengthAdjust="spacingAndGlyphs">578</text>
<path d="M1170.0 363.3H1191.4V378.5H1187.8L1182.4 379.7L1182.5 378.5H1170.0Z"/><text class="dl" stroke="none" x="1180.7" y="374.5" textLength="16.6" lengthAdjust="spacingAndGlyphs">546</text>
<path d="M1194.3 365.0H1215.7V380.2H1212.1L1206.7 381.8L1206.8 380.2H1194.3Z"/><text class="dl" stroke="none" x="1205.0" y="376.2" textLength="16.6" lengthAdjust="spacingAndGlyphs">509</text>
<path d="M1218.8 368.4H1240.2V383.6H1236.6L1231.0 385.1L1231.3 383.6H1218.8Z"/><text class="dl" stroke="none" x="1229.5" y="379.6" textLength="16.6" lengthAdjust="spacingAndGlyphs">453</text>
<path d="M1243.1 369.2H1264.5V384.4H1260.9L1255.3 387.6L1255.6 384.4H1243.1Z"/><text class="dl" stroke="none" x="1253.8" y="380.4" textLength="16.6" lengthAdjust="spacingAndGlyphs">410</text>
</g>
<g fill="#fff" stroke="#0a8a0a" stroke-width="1.6" stroke-linejoin="miter">
<path d="M33.6 364.2H54.9V379.4H33.6Z"/><text class="dl" stroke="none" x="44.2" y="375.4" textLength="16.6" lengthAdjust="spacingAndGlyphs">779</text>
<path d="M52.5 351.9H57.0L63.5 339.6L63.8 351.9H79.5V367.1H52.5Z"/><text class="dl" stroke="none" x="66.0" y="363.1" textLength="22.2" lengthAdjust="spacingAndGlyphs">1228</text>
<path d="M74.8 342.4H101.8V357.6H74.8Z"/><text class="dl" stroke="none" x="88.3" y="353.6" textLength="22.2" lengthAdjust="spacingAndGlyphs">1132</text>
<path d="M94.1 318.6H121.1V333.8H116.6L112.1 341.3L109.8 333.8H94.1Z"/><text class="dl" stroke="none" x="107.6" y="329.8" textLength="22.2" lengthAdjust="spacingAndGlyphs">1200</text>
<path d="M125.9 343.1H147.2V358.3H134.8L136.5 369.0L129.5 358.3H125.9Z"/><text class="dl" stroke="none" x="136.6" y="354.3" textLength="16.6" lengthAdjust="spacingAndGlyphs">727</text>
<path d="M149.4 355.6H170.8V370.8H167.2L160.8 383.0L161.9 370.8H149.4Z"/><text class="dl" stroke="none" x="160.1" y="366.8" textLength="16.6" lengthAdjust="spacingAndGlyphs">489</text>
<path d="M169.7 364.6H191.0V379.8H187.4L185.1 389.1L182.1 379.8H169.7Z"/><text class="dl" stroke="none" x="180.3" y="375.8" textLength="16.6" lengthAdjust="spacingAndGlyphs">385</text>
<path d="M195.0 369.0H216.3V384.2H212.8L209.4 391.3L207.5 384.2H195.0Z"/><text class="dl" stroke="none" x="205.7" y="380.2" textLength="16.6" lengthAdjust="spacingAndGlyphs">347</text>
<path d="M220.5 373.3H241.8V388.5H238.3L233.8 396.7L233.0 388.5H220.5Z"/><text class="dl" stroke="none" x="231.2" y="384.5" textLength="16.6" lengthAdjust="spacingAndGlyphs">256</text>
<path d="M245.2 402.8H257.7L258.1 397.9L263.0 402.8H266.6V418.0H245.2Z"/><text class="dl" stroke="none" x="255.9" y="414.0" textLength="16.6" lengthAdjust="spacingAndGlyphs">235</text>
<path d="M270.2 374.8H291.4V390.0H287.9L282.4 397.4L282.6 390.0H270.2Z"/><text class="dl" stroke="none" x="280.8" y="386.0" textLength="16.6" lengthAdjust="spacingAndGlyphs">244</text>
<path d="M290.9 371.0H312.1V386.2H308.6L306.7 396.1L303.3 386.2H290.9Z"/><text class="dl" stroke="none" x="301.5" y="382.2" textLength="16.6" lengthAdjust="spacingAndGlyphs">266</text>
<path d="M316.1 375.0H337.3V390.2H333.8L331.0 398.5L328.5 390.2H316.1Z"/><text class="dl" stroke="none" x="326.7" y="386.2" textLength="16.6" lengthAdjust="spacingAndGlyphs">226</text>
<path d="M342.8 376.0H364.0V391.2H360.5L355.4 400.5L355.2 391.2H342.8Z"/><text class="dl" stroke="none" x="353.4" y="387.2" textLength="16.6" lengthAdjust="spacingAndGlyphs">192</text>
<path d="M364.9 378.0H386.1V393.2H382.6L379.7 403.2L377.3 393.2H364.9Z"/><text class="dl" stroke="none" x="375.5" y="389.2" textLength="16.6" lengthAdjust="spacingAndGlyphs">146</text>
<path d="M389.2 378.0H410.4V393.2H406.9L404.0 404.6L401.6 393.2H389.2Z"/><text class="dl" stroke="none" x="399.8" y="389.2" textLength="16.6" lengthAdjust="spacingAndGlyphs">121</text>
<path d="M418.0 393.3H434.0V408.5H418.0Z"/><text class="dl" stroke="none" x="426.0" y="404.5" textLength="11.1" lengthAdjust="spacingAndGlyphs">74</text>
<path d="M439.1 381.2H460.3V396.4H456.8L452.7 403.9L451.5 396.4H439.1Z"/><text class="dl" stroke="none" x="449.7" y="392.4" textLength="16.6" lengthAdjust="spacingAndGlyphs">133</text>
<path d="M463.7 377.2H484.9V392.4H481.4L477.0 397.4L476.1 392.4H463.7Z"/><text class="dl" stroke="none" x="474.3" y="388.4" textLength="16.6" lengthAdjust="spacingAndGlyphs">244</text>
<path d="M486.6 387.7H507.8V402.9H486.6Z"/><text class="dl" stroke="none" x="497.2" y="398.9" textLength="16.6" lengthAdjust="spacingAndGlyphs">232</text>
<path d="M511.1 378.1H532.4V393.3H528.8L525.6 402.4L523.5 393.3H511.1Z"/><text class="dl" stroke="none" x="521.7" y="389.3" textLength="16.6" lengthAdjust="spacingAndGlyphs">158</text>
<path d="M538.5 400.2H554.5V415.4H538.5Z"/><text class="dl" stroke="none" x="546.5" y="411.4" textLength="11.1" lengthAdjust="spacingAndGlyphs">98</text>
<path d="M559.9 401.1H581.1V416.3H559.9Z"/><text class="dl" stroke="none" x="570.5" y="412.3" textLength="16.6" lengthAdjust="spacingAndGlyphs">128</text>
<path d="M583.0 401.5H604.2V416.7H583.0Z"/><text class="dl" stroke="none" x="593.6" y="412.7" textLength="16.6" lengthAdjust="spacingAndGlyphs">150</text>
<path d="M610.1 387.4H631.4V402.6H610.1Z"/><text class="dl" stroke="none" x="620.7" y="398.6" textLength="16.6" lengthAdjust="spacingAndGlyphs">252</text>
<path d="M644.1 374.1H665.4V389.3H653.0L647.2 395.3L647.7 389.3H644.1Z"/><text class="dl" stroke="none" x="654.8" y="385.3" textLength="16.6" lengthAdjust="spacingAndGlyphs">279</text>
<path d="M666.6 373.8H687.9V389.0H675.4L671.6 396.0L670.1 389.0H666.6Z"/><text class="dl" stroke="none" x="677.2" y="385.0" textLength="16.6" lengthAdjust="spacingAndGlyphs">268</text>
<path d="M690.4 396.9H711.6V412.1H690.4Z"/><text class="dl" stroke="none" x="701.0" y="408.1" textLength="16.6" lengthAdjust="spacingAndGlyphs">237</text>
<path d="M710.6 373.1H731.9V388.3H719.4L720.2 397.0L714.1 388.3H710.6Z"/><text class="dl" stroke="none" x="721.2" y="384.3" textLength="16.6" lengthAdjust="spacingAndGlyphs">251</text>
<path d="M738.2 374.0H759.5V389.2H747.1L744.5 394.9L741.8 389.2H738.2Z"/><text class="dl" stroke="none" x="748.9" y="385.2" textLength="16.6" lengthAdjust="spacingAndGlyphs">287</text>
<path d="M761.2 378.1H782.5V393.3H770.1L768.9 397.5L764.8 393.3H761.2Z"/><text class="dl" stroke="none" x="771.9" y="389.3" textLength="16.6" lengthAdjust="spacingAndGlyphs">243</text>
<path d="M785.4 378.1H806.6V393.3H794.2L793.2 398.6L788.9 393.3H785.4Z"/><text class="dl" stroke="none" x="796.0" y="389.3" textLength="16.6" lengthAdjust="spacingAndGlyphs">223</text>
<path d="M810.1 377.3H831.4V392.5H819.0L817.5 398.4L813.7 392.5H810.1Z"/><text class="dl" stroke="none" x="820.8" y="388.5" textLength="16.6" lengthAdjust="spacingAndGlyphs">227</text>
<path d="M832.4 379.8H853.6V395.0H841.2L841.8 400.0L835.9 395.0H832.4Z"/><text class="dl" stroke="none" x="843.0" y="391.0" textLength="16.6" lengthAdjust="spacingAndGlyphs">200</text>
<path d="M856.4 384.3H877.6V399.5H865.2L866.2 401.6L859.9 399.5H856.4Z"/><text class="dl" stroke="none" x="867.0" y="395.5" textLength="16.6" lengthAdjust="spacingAndGlyphs">172</text>
<path d="M878.1 382.8H899.4V398.0H895.8L890.5 400.1L890.5 398.0H878.1Z"/><text class="dl" stroke="none" x="888.7" y="394.0" textLength="16.6" lengthAdjust="spacingAndGlyphs">198</text>
<path d="M900.0 384.6H921.2V399.8H917.7L914.8 401.7L912.4 399.8H900.0Z"/><text class="dl" stroke="none" x="910.6" y="395.8" textLength="16.6" lengthAdjust="spacingAndGlyphs">170</text>
<path d="M929.4 386.1H950.6V401.3H938.2L939.1 404.2L932.9 401.3H929.4Z"/><text class="dl" stroke="none" x="940.0" y="397.3" textLength="16.6" lengthAdjust="spacingAndGlyphs">129</text>
<path d="M952.4 389.8H973.6V405.0H970.1L963.5 405.9L964.8 405.0H952.4Z"/><text class="dl" stroke="none" x="963.0" y="401.0" textLength="16.6" lengthAdjust="spacingAndGlyphs">100</text>
<path d="M978.3 390.4H994.3V405.6H991.6L987.8 406.5L987.6 405.6H978.3Z"/><text class="dl" stroke="none" x="986.3" y="401.6" textLength="11.1" lengthAdjust="spacingAndGlyphs">89</text>
<path d="M1003.4 389.8H1019.4V405.0H1016.7L1012.1 406.4L1012.7 405.0H1003.4Z"/><text class="dl" stroke="none" x="1011.4" y="401.0" textLength="11.1" lengthAdjust="spacingAndGlyphs">91</text>
<path d="M1026.5 386.9H1042.5V402.1H1039.8L1036.4 406.3L1035.8 402.1H1026.5Z"/><text class="dl" stroke="none" x="1034.5" y="398.1" textLength="11.1" lengthAdjust="spacingAndGlyphs">93</text>
<path d="M1051.0 391.2H1067.0V406.4H1064.3L1060.8 407.5L1060.3 406.4H1051.0Z"/><text class="dl" stroke="none" x="1059.0" y="402.4" textLength="11.1" lengthAdjust="spacingAndGlyphs">72</text>
<path d="M1077.5 389.6H1093.5V404.8H1084.2L1085.1 408.4L1080.2 404.8H1077.5Z"/><text class="dl" stroke="none" x="1085.5" y="400.8" textLength="11.1" lengthAdjust="spacingAndGlyphs">56</text>
<path d="M1100.4 392.5H1116.4V407.7H1113.7L1109.4 408.8L1109.7 407.7H1100.4Z"/><text class="dl" stroke="none" x="1108.4" y="403.7" textLength="11.1" lengthAdjust="spacingAndGlyphs">50</text>
<path d="M1125.3 393.5H1141.3V408.7H1138.6L1133.7 409.9L1134.6 408.7H1125.3Z"/><text class="dl" stroke="none" x="1133.3" y="404.7" textLength="11.1" lengthAdjust="spacingAndGlyphs">31</text>
<path d="M1148.5 396.4H1164.5V411.6H1148.5Z"/><text class="dl" stroke="none" x="1156.5" y="407.6" textLength="11.1" lengthAdjust="spacingAndGlyphs">31</text>
<path d="M1171.7 398.4H1187.7V413.6H1171.7Z"/><text class="dl" stroke="none" x="1179.7" y="409.6" textLength="11.1" lengthAdjust="spacingAndGlyphs">28</text>
<path d="M1197.4 401.0H1213.4V416.2H1197.4Z"/><text class="dl" stroke="none" x="1205.4" y="412.2" textLength="11.1" lengthAdjust="spacingAndGlyphs">27</text>
<path d="M1223.0 403.8H1239.0V419.0H1223.0Z"/><text class="dl" stroke="none" x="1231.0" y="415.0" textLength="11.1" lengthAdjust="spacingAndGlyphs">21</text>
<path d="M1247.9 401.6H1263.9V416.8H1247.9Z"/><text class="dl" stroke="none" x="1255.9" y="412.8" textLength="11.1" lengthAdjust="spacingAndGlyphs">24</text>
</g>
<g fill="#fff" stroke="#7030a0" stroke-width="1.6" stroke-linejoin="miter">
<path d="M25.4 383.8H46.6V399.0H25.4Z"/><text class="dl" stroke="none" x="36.0" y="395.0" textLength="16.6" lengthAdjust="spacingAndGlyphs">245</text>
<path d="M55.4 368.3H76.7V383.5H64.2L63.5 392.2L58.9 383.5H55.4Z"/><text class="dl" stroke="none" x="66.0" y="379.5" textLength="16.6" lengthAdjust="spacingAndGlyphs">332</text>
<path d="M77.8 365.5H99.2V380.7H86.7L87.8 387.8L81.4 380.7H77.8Z"/><text class="dl" stroke="none" x="88.5" y="376.7" textLength="16.6" lengthAdjust="spacingAndGlyphs">407</text>
<path d="M104.0 365.2H120.5V384.4H110.9L112.1 388.7L106.8 384.4H104.0Z"/><text class="dl" stroke="none" x="112.3" y="378.4" textLength="11.1" lengthAdjust="spacingAndGlyphs">39</text>
<path d="M128.9 367.0H150.2V382.2H137.8L136.5 389.5L132.5 382.2H128.9Z"/><text class="dl" stroke="none" x="139.6" y="378.2" textLength="16.6" lengthAdjust="spacingAndGlyphs">378</text>
<path d="M148.2 395.4H160.6L160.8 390.6L165.9 395.4H169.5V410.6H148.2Z"/><text class="dl" stroke="none" x="158.8" y="406.6" textLength="16.6" lengthAdjust="spacingAndGlyphs">359</text>
<path d="M173.8 399.7H186.2L185.1 392.6L191.5 399.7H195.1V414.9H173.8Z"/><text class="dl" stroke="none" x="184.4" y="410.9" textLength="16.6" lengthAdjust="spacingAndGlyphs">326</text>
<path d="M198.2 400.4H210.7L209.4 394.5L216.0 400.4H219.6V415.6H198.2Z"/><text class="dl" stroke="none" x="208.9" y="411.6" textLength="16.6" lengthAdjust="spacingAndGlyphs">294</text>
<path d="M221.5 401.6H234.0L233.8 396.3L239.3 401.6H242.8V416.8H221.5Z"/><text class="dl" stroke="none" x="232.2" y="412.8" textLength="16.6" lengthAdjust="spacingAndGlyphs">262</text>
<path d="M243.3 375.3H264.6V390.5H261.1L258.1 398.3L255.8 390.5H243.3Z"/><text class="dl" stroke="none" x="254.0" y="386.5" textLength="16.6" lengthAdjust="spacingAndGlyphs">228</text>
<path d="M270.7 399.0H291.9V414.2H270.7Z"/><text class="dl" stroke="none" x="281.3" y="410.2" textLength="16.6" lengthAdjust="spacingAndGlyphs">197</text>
<path d="M292.4 393.0H313.6V408.2H292.4Z"/><text class="dl" stroke="none" x="303.0" y="404.2" textLength="16.6" lengthAdjust="spacingAndGlyphs">139</text>
<path d="M318.9 392.2H340.1V407.4H318.9Z"/><text class="dl" stroke="none" x="329.5" y="403.4" textLength="16.6" lengthAdjust="spacingAndGlyphs">105</text>
<path d="M342.9 391.7H364.4V410.9H342.9Z"/><text class="dl" stroke="none" x="353.6" y="404.9" textLength="16.6" lengthAdjust="spacingAndGlyphs">136</text>
<path d="M365.7 398.1H386.9V413.3H365.7Z"/><text class="dl" stroke="none" x="376.3" y="409.3" textLength="16.6" lengthAdjust="spacingAndGlyphs">124</text>
<path d="M391.1 399.0H412.3V414.2H391.1Z"/><text class="dl" stroke="none" x="401.7" y="410.2" textLength="16.6" lengthAdjust="spacingAndGlyphs">121</text>
<path d="M411.8 377.8H433.0V393.0H429.5L428.3 403.7L424.2 393.0H411.8Z"/><text class="dl" stroke="none" x="422.4" y="389.0" textLength="16.6" lengthAdjust="spacingAndGlyphs">136</text>
<path d="M438.9 399.8H460.1V415.0H438.9Z"/><text class="dl" stroke="none" x="449.5" y="411.0" textLength="16.6" lengthAdjust="spacingAndGlyphs">122</text>
<path d="M465.2 397.8H486.4V413.0H465.2Z"/><text class="dl" stroke="none" x="475.8" y="409.0" textLength="16.6" lengthAdjust="spacingAndGlyphs">108</text>
<path d="M487.8 397.8H509.0V413.0H487.8Z"/><text class="dl" stroke="none" x="498.4" y="409.0" textLength="16.6" lengthAdjust="spacingAndGlyphs">102</text>
<path d="M512.0 395.4H533.2V410.6H512.0Z"/><text class="dl" stroke="none" x="522.6" y="406.6" textLength="16.6" lengthAdjust="spacingAndGlyphs">115</text>
<path d="M533.6 379.6H554.9V394.8H551.3L550.0 404.7L546.0 394.8H533.6Z"/><text class="dl" stroke="none" x="544.2" y="390.8" textLength="16.6" lengthAdjust="spacingAndGlyphs">119</text>
<path d="M559.0 379.6H580.2V394.8H576.7L574.3 400.5L571.4 394.8H559.0Z"/><text class="dl" stroke="none" x="569.6" y="390.8" textLength="16.6" lengthAdjust="spacingAndGlyphs">191</text>
<path d="M582.1 375.0H603.4V390.2H599.9L598.6 397.4L594.6 390.2H582.1Z"/><text class="dl" stroke="none" x="592.8" y="386.2" textLength="16.6" lengthAdjust="spacingAndGlyphs">244</text>
<path d="M609.9 371.3H631.1V386.5H627.6L622.9 391.7L622.3 386.5H609.9Z"/><text class="dl" stroke="none" x="620.5" y="382.5" textLength="16.6" lengthAdjust="spacingAndGlyphs">341</text>
<path d="M642.9 356.0H664.1V371.2H651.7L647.2 385.1L646.4 371.2H642.9Z"/><text class="dl" stroke="none" x="653.5" y="367.2" textLength="16.6" lengthAdjust="spacingAndGlyphs">454</text>
<path d="M665.2 357.6H686.5V372.8H674.1L671.6 382.7L668.8 372.8H665.2Z"/><text class="dl" stroke="none" x="675.9" y="368.8" textLength="16.6" lengthAdjust="spacingAndGlyphs">494</text>
<path d="M689.6 349.4H710.9V364.6H698.4L695.9 380.1L693.1 364.6H689.6Z"/><text class="dl" stroke="none" x="700.2" y="360.6" textLength="16.6" lengthAdjust="spacingAndGlyphs">538</text>
<path d="M709.8 353.1H731.0V368.3H718.6L720.2 374.6L713.3 368.3H709.8Z"/><text class="dl" stroke="none" x="720.4" y="364.3" textLength="16.6" lengthAdjust="spacingAndGlyphs">633</text>
<path d="M736.1 353.9H757.4V369.1H745.0L744.5 374.1L739.7 369.1H736.1Z"/><text class="dl" stroke="none" x="746.8" y="365.1" textLength="16.6" lengthAdjust="spacingAndGlyphs">641</text>
<path d="M765.4 354.1H786.6V369.3H774.2L768.9 375.0L768.9 369.3H765.4Z"/><text class="dl" stroke="none" x="776.0" y="365.3" textLength="16.6" lengthAdjust="spacingAndGlyphs">626</text>
<path d="M786.5 356.2H807.8V371.4H795.3L793.2 375.7L790.0 371.4H786.5Z"/><text class="dl" stroke="none" x="797.1" y="367.4" textLength="16.6" lengthAdjust="spacingAndGlyphs">614</text>
<path d="M809.6 357.7H830.9V372.9H818.4L817.5 376.0L813.1 372.9H809.6Z"/><text class="dl" stroke="none" x="820.2" y="368.9" textLength="16.6" lengthAdjust="spacingAndGlyphs">609</text>
<path d="M831.6 358.2H852.9V373.4H840.4L841.8 377.1L835.1 373.4H831.6Z"/><text class="dl" stroke="none" x="842.2" y="369.4" textLength="16.6" lengthAdjust="spacingAndGlyphs">590</text>
<path d="M854.9 357.6H876.1V372.8H872.6L866.2 377.7L867.3 372.8H854.9Z"/><text class="dl" stroke="none" x="865.5" y="368.8" textLength="16.6" lengthAdjust="spacingAndGlyphs">579</text>
<path d="M878.8 353.3H900.0V368.5H896.5L890.5 376.5L891.2 368.5H878.8Z"/><text class="dl" stroke="none" x="889.4" y="364.5" textLength="16.6" lengthAdjust="spacingAndGlyphs">600</text>
<path d="M896.6 356.8H917.9V372.0H914.4L914.8 376.9L909.1 372.0H896.6Z"/><text class="dl" stroke="none" x="907.3" y="368.0" textLength="16.6" lengthAdjust="spacingAndGlyphs">593</text>
<path d="M926.8 352.9H948.0V368.1H944.5L939.1 376.5L939.2 368.1H926.8Z"/><text class="dl" stroke="none" x="937.4" y="364.1" textLength="16.6" lengthAdjust="spacingAndGlyphs">599</text>
<path d="M952.6 358.9H973.9V374.1H970.3L963.5 378.3L965.0 374.1H952.6Z"/><text class="dl" stroke="none" x="963.2" y="370.1" textLength="16.6" lengthAdjust="spacingAndGlyphs">569</text>
<path d="M975.1 360.0H996.4V375.2H992.9L987.8 379.1L987.6 375.2H975.1Z"/><text class="dl" stroke="none" x="985.8" y="371.2" textLength="16.6" lengthAdjust="spacingAndGlyphs">555</text>
<path d="M996.7 363.9H1019.1V380.8H1006.0L1007.7 386.6L1000.4 380.8H996.7Z"/><text class="dl" stroke="none" x="1007.9" y="375.9" textLength="16.6" lengthAdjust="spacingAndGlyphs">537</text>
<path d="M1025.5 367.9H1046.9V383.1H1025.5Z"/><text class="dl" stroke="none" x="1036.2" y="379.1" textLength="16.6" lengthAdjust="spacingAndGlyphs">506</text>
<path d="M1048.8 370.5H1070.1V385.7H1048.8Z"/><text class="dl" stroke="none" x="1059.4" y="381.7" textLength="16.6" lengthAdjust="spacingAndGlyphs">474</text>
<path d="M1074.4 370.2H1095.8V385.4H1083.3L1085.1 386.7L1078.0 385.4H1074.4Z"/><text class="dl" stroke="none" x="1085.1" y="381.4" textLength="16.6" lengthAdjust="spacingAndGlyphs">426</text>
<path d="M1098.9 374.2H1120.2V389.4H1107.8L1109.4 390.9L1102.5 389.4H1098.9Z"/><text class="dl" stroke="none" x="1109.6" y="385.4" textLength="16.6" lengthAdjust="spacingAndGlyphs">354</text>
<path d="M1122.5 376.1H1143.9V391.3H1140.3L1133.7 396.2L1135.0 391.3H1122.5Z"/><text class="dl" stroke="none" x="1133.2" y="387.3" textLength="16.6" lengthAdjust="spacingAndGlyphs">265</text>
<path d="M1147.5 378.9H1168.9V394.1H1156.4L1158.0 400.0L1151.1 394.1H1147.5Z"/><text class="dl" stroke="none" x="1158.2" y="390.1" textLength="16.6" lengthAdjust="spacingAndGlyphs">199</text>
<path d="M1169.8 381.7H1191.2V396.9H1187.6L1182.4 401.6L1182.3 396.9H1169.8Z"/><text class="dl" stroke="none" x="1180.5" y="392.9" textLength="16.6" lengthAdjust="spacingAndGlyphs">172</text>
<path d="M1194.6 383.4H1216.0V398.6H1212.4L1206.7 403.1L1207.1 398.6H1194.6Z"/><text class="dl" stroke="none" x="1205.3" y="394.6" textLength="16.6" lengthAdjust="spacingAndGlyphs">147</text>
<path d="M1220.8 386.2H1242.2V401.4H1229.7L1231.0 404.4L1224.4 401.4H1220.8Z"/><text class="dl" stroke="none" x="1231.5" y="397.4" textLength="16.6" lengthAdjust="spacingAndGlyphs">124</text>
<path d="M1245.0 387.1H1266.4V402.3H1253.9L1255.3 405.6L1248.6 402.3H1245.0Z"/><text class="dl" stroke="none" x="1255.7" y="398.3" textLength="16.6" lengthAdjust="spacingAndGlyphs">105</text>
</g>
<g fill="#fff" stroke="#ffc000" stroke-width="1.6" stroke-linejoin="miter">
<path d="M33.6 404.3H37.1L39.2 400.5L42.4 404.3H54.9V419.5H33.6Z"/><text class="dl" stroke="none" x="44.2" y="415.5" textLength="16.6" lengthAdjust="spacingAndGlyphs">192</text>
<path d="M53.6 390.7H74.9V405.9H53.6Z"/><text class="dl" stroke="none" x="64.2" y="401.9" textLength="16.6" lengthAdjust="spacingAndGlyphs">209</text>
<path d="M81.6 390.7H97.6V405.9H88.3L87.8 408.5L84.3 405.9H81.6Z"/><text class="dl" stroke="none" x="89.6" y="401.9" textLength="11.1" lengthAdjust="spacingAndGlyphs">55</text>
<path d="M102.0 396.1H118.0V413.9H102.0Z"/><text class="dl" stroke="none" x="110.0" y="408.6" textLength="11.1" lengthAdjust="spacingAndGlyphs">18</text>
<path d="M131.2 402.3H141.0V417.5H131.2Z"/><text class="dl" stroke="none" x="136.1" y="413.5" textLength="5.5" lengthAdjust="spacingAndGlyphs">0</text>
<path d="M152.0 403.9H161.8V419.1H152.0Z"/><text class="dl" stroke="none" x="156.9" y="415.1" textLength="5.5" lengthAdjust="spacingAndGlyphs">0</text>
<path d="M179.6 403.9H189.4V419.1H179.6Z"/><text class="dl" stroke="none" x="184.5" y="415.1" textLength="5.5" lengthAdjust="spacingAndGlyphs">0</text>
<path d="M203.3 404.9H213.1V420.1H203.3Z"/><text class="dl" stroke="none" x="208.2" y="416.1" textLength="5.5" lengthAdjust="spacingAndGlyphs">0</text>
<path d="M228.1 406.5H237.9V421.7H228.1Z"/><text class="dl" stroke="none" x="233.0" y="417.7" textLength="5.5" lengthAdjust="spacingAndGlyphs">0</text>
<path d="M251.4 407.7H261.2V422.9H251.4Z"/><text class="dl" stroke="none" x="256.3" y="418.9" textLength="5.5" lengthAdjust="spacingAndGlyphs">0</text>
<path d="M275.7 406.7H285.5V421.9H275.7Z"/><text class="dl" stroke="none" x="280.6" y="417.9" textLength="5.5" lengthAdjust="spacingAndGlyphs">0</text>
<path d="M300.9 404.9H310.7V420.1H300.9Z"/><text class="dl" stroke="none" x="305.8" y="416.1" textLength="5.5" lengthAdjust="spacingAndGlyphs">0</text>
<path d="M324.7 405.6H334.5V420.8H324.7Z"/><text class="dl" stroke="none" x="329.6" y="416.8" textLength="5.5" lengthAdjust="spacingAndGlyphs">0</text>
<path d="M350.6 406.3H360.4V421.5H350.6Z"/><text class="dl" stroke="none" x="355.5" y="417.5" textLength="5.5" lengthAdjust="spacingAndGlyphs">0</text>
<path d="M373.6 406.0H383.4V421.2H373.6Z"/><text class="dl" stroke="none" x="378.5" y="417.2" textLength="5.5" lengthAdjust="spacingAndGlyphs">0</text>
<path d="M398.7 406.6H408.5V421.8H398.7Z"/><text class="dl" stroke="none" x="403.6" y="417.8" textLength="5.5" lengthAdjust="spacingAndGlyphs">0</text>
<path d="M421.7 405.7H431.5V420.9H421.7Z"/><text class="dl" stroke="none" x="426.6" y="416.9" textLength="5.5" lengthAdjust="spacingAndGlyphs">0</text>
<path d="M446.9 406.6H456.7V421.8H446.9Z"/><text class="dl" stroke="none" x="451.8" y="417.8" textLength="5.5" lengthAdjust="spacingAndGlyphs">0</text>
<path d="M472.1 408.7H481.9V423.9H472.1Z"/><text class="dl" stroke="none" x="477.0" y="419.9" textLength="5.5" lengthAdjust="spacingAndGlyphs">0</text>
<path d="M495.2 407.2H505.0V422.4H495.2Z"/><text class="dl" stroke="none" x="500.1" y="418.4" textLength="5.5" lengthAdjust="spacingAndGlyphs">0</text>
<path d="M520.6 408.3H530.4V423.5H520.6Z"/><text class="dl" stroke="none" x="525.5" y="419.5" textLength="5.5" lengthAdjust="spacingAndGlyphs">0</text>
<path d="M543.9 409.5H553.7V424.7H543.9Z"/><text class="dl" stroke="none" x="548.8" y="420.7" textLength="5.5" lengthAdjust="spacingAndGlyphs">0</text>
<path d="M568.6 409.5H578.4V424.7H568.6Z"/><text class="dl" stroke="none" x="573.5" y="420.7" textLength="5.5" lengthAdjust="spacingAndGlyphs">0</text>
<path d="M591.8 407.9H601.6V423.1H591.8Z"/><text class="dl" stroke="none" x="596.7" y="419.1" textLength="5.5" lengthAdjust="spacingAndGlyphs">0</text>
<path d="M609.9 402.4H622.3L622.9 401.1L627.6 402.4H631.1V417.6H609.9Z"/><text class="dl" stroke="none" x="620.5" y="413.6" textLength="16.6" lengthAdjust="spacingAndGlyphs">181</text>
<path d="M642.4 397.8H663.6V413.0H642.4Z"/><text class="dl" stroke="none" x="653.0" y="409.0" textLength="16.6" lengthAdjust="spacingAndGlyphs">229</text>
<path d="M666.2 396.8H687.5V412.0H666.2Z"/><text class="dl" stroke="none" x="676.9" y="408.0" textLength="16.6" lengthAdjust="spacingAndGlyphs">201</text>
<path d="M690.4 377.0H711.6V392.2H699.2L695.9 396.3L693.9 392.2H690.4Z"/><text class="dl" stroke="none" x="701.0" y="388.2" textLength="16.6" lengthAdjust="spacingAndGlyphs">262</text>
<path d="M712.5 396.8H733.8V412.0H712.5Z"/><text class="dl" stroke="none" x="723.1" y="408.0" textLength="16.6" lengthAdjust="spacingAndGlyphs">207</text>
<path d="M742.4 395.9H758.4V411.1H742.4Z"/><text class="dl" stroke="none" x="750.4" y="407.1" textLength="11.1" lengthAdjust="spacingAndGlyphs">84</text>
<path d="M760.8 400.0H776.8V415.2H760.8Z"/><text class="dl" stroke="none" x="768.8" y="411.2" textLength="11.1" lengthAdjust="spacingAndGlyphs">32</text>
<path d="M787.8 403.4H803.8V418.6H787.8Z"/><text class="dl" stroke="none" x="795.8" y="414.6" textLength="11.1" lengthAdjust="spacingAndGlyphs">25</text>
<path d="M813.5 403.7H829.5V418.9H813.5Z"/><text class="dl" stroke="none" x="821.5" y="414.9" textLength="11.1" lengthAdjust="spacingAndGlyphs">18</text>
<path d="M837.0 403.7H853.0V418.9H837.0Z"/><text class="dl" stroke="none" x="845.0" y="414.9" textLength="11.1" lengthAdjust="spacingAndGlyphs">19</text>
<path d="M862.0 404.3H871.8V419.5H862.0Z"/><text class="dl" stroke="none" x="866.9" y="415.5" textLength="5.5" lengthAdjust="spacingAndGlyphs">0</text>
<path d="M885.6 399.3H900.0V418.7H885.6Z"/><text class="dl" stroke="none" x="892.8" y="412.6" textLength="5.5" lengthAdjust="spacingAndGlyphs">0</text>
<path d="M907.9 400.7H917.7V415.9H907.9Z"/><text class="dl" stroke="none" x="912.8" y="411.9" textLength="5.5" lengthAdjust="spacingAndGlyphs">0</text>
<path d="M936.4 405.0H946.2V420.2H936.4Z"/><text class="dl" stroke="none" x="941.3" y="416.2" textLength="5.5" lengthAdjust="spacingAndGlyphs">0</text>
<path d="M958.9 406.4H968.7V421.6H958.9Z"/><text class="dl" stroke="none" x="963.8" y="417.6" textLength="5.5" lengthAdjust="spacingAndGlyphs">0</text>
<path d="M982.3 406.8H992.1V422.0H982.3Z"/><text class="dl" stroke="none" x="987.2" y="418.0" textLength="5.5" lengthAdjust="spacingAndGlyphs">0</text>
<path d="M1009.0 411.8H1018.8V427.0H1009.0Z"/><text class="dl" stroke="none" x="1013.9" y="423.0" textLength="5.5" lengthAdjust="spacingAndGlyphs">3</text>
<path d="M1026.9 411.1H1042.9V426.3H1026.9Z"/><text class="dl" stroke="none" x="1034.9" y="422.3" textLength="11.1" lengthAdjust="spacingAndGlyphs">18</text>
<path d="M1052.7 408.4H1068.7V423.6H1052.7Z"/><text class="dl" stroke="none" x="1060.7" y="419.6" textLength="11.1" lengthAdjust="spacingAndGlyphs">33</text>
<path d="M1077.4 407.8H1093.4V423.0H1077.4Z"/><text class="dl" stroke="none" x="1085.4" y="419.0" textLength="11.1" lengthAdjust="spacingAndGlyphs">17</text>
<path d="M1102.2 409.9H1112.0V425.1H1102.2Z"/><text class="dl" stroke="none" x="1107.1" y="421.1" textLength="5.5" lengthAdjust="spacingAndGlyphs">8</text>
<path d="M1128.9 411.2H1138.7V426.4H1128.9Z"/><text class="dl" stroke="none" x="1133.8" y="422.4" textLength="5.5" lengthAdjust="spacingAndGlyphs">3</text>
</g>
</svg></body></html>
